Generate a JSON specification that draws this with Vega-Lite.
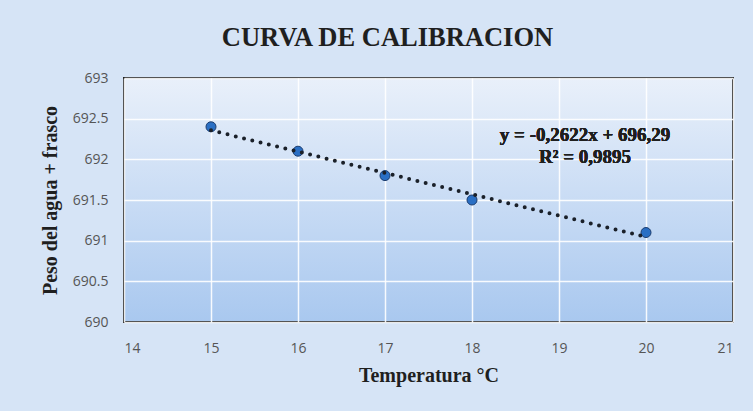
{
  "$schema": "https://vega.github.io/schema/vega-lite/v6.json",
  "width": 609,
  "height": 244,
  "autosize": {"type": "none"},
  "padding": {"left": 124, "top": 78, "right": 20, "bottom": 89},
  "background": "#d6e4f6",
  "title": {
    "text": "CURVA DE CALIBRACION",
    "font": "Liberation Serif",
    "fontSize": 26.5,
    "fontWeight": "bold",
    "color": "#1f1f1f",
    "anchor": "middle",
    "frame": "group",
    "dx": -41,
    "baseline": "bottom",
    "offset": -7
  },
  "config": {
    "view": {
      "stroke": "#222222",
      "strokeWidth": 2,
      "fill": {
        "gradient": "linear",
        "x1": 0, "y1": 0, "x2": 0, "y2": 1,
        "stops": [
          {"offset": 0, "color": "#e9f0fa"},
          {"offset": 1, "color": "#a9c8ef"}
        ]
      }
    },
    "axis": {
      "labelFont": "Open Sans",
      "labelFontSize": 14,
      "labelColor": "#555555",
      "ticks": false,
      "domain": false,
      "gridColor": "#ffffff",
      "gridWidth": 1.5,
      "gridOpacity": 0.9,
      "titleFont": "Liberation Serif",
      "titleFontSize": 20,
      "titleFontWeight": "bold",
      "titleColor": "#1f1f1f"
    }
  },
  "data": {
    "values": [
      {"temp": 15, "peso": 692.4},
      {"temp": 16, "peso": 692.1},
      {"temp": 17, "peso": 691.8},
      {"temp": 18, "peso": 691.5},
      {"temp": 20, "peso": 691.1}
    ]
  },
  "encoding": {
    "x": {
      "field": "temp",
      "type": "quantitative",
      "scale": {"domain": [14, 21], "nice": false, "zero": false},
      "axis": {
        "title": "Temperatura °C",
        "values": [14, 15, 16, 17, 18, 19, 20, 21],
        "labelPadding": 19,
        "titlePadding": 10
      }
    },
    "y": {
      "field": "peso",
      "type": "quantitative",
      "scale": {"domain": [690, 693], "nice": false, "zero": false},
      "axis": {
        "title": "Peso del agua + frasco",
        "format": "~g",
        "values": [690, 690.5, 691, 691.5, 692, 692.5, 693],
        "labelPadding": 16,
        "titlePadding": 12
      }
    }
  },
  "layer": [
    {
      "mark": {"type": "point", "filled": true, "size": 100, "color": "#2a6fc4", "stroke": "#1b3c6e", "strokeWidth": 1, "opacity": 1}
    },
    {
      "transform": [{"regression": "peso", "on": "temp"}],
      "mark": {"type": "line", "color": "#1a2029", "strokeWidth": 4, "strokeDash": [0, 8.5], "strokeCap": "round"}
    },
    {
      "mark": {
        "type": "text",
        "text": ["y = -0,2622x + 696,29", "R² = 0,9895"],
        "font": "Liberation Serif",
        "fontSize": 19,
        "fontWeight": "bold",
        "color": "#1f1f1f",
        "align": "center",
        "baseline": "alphabetic",
        "lineHeight": 22
      },
      "encoding": {
        "x": {"datum": 19.3, "type": "quantitative"},
        "y": {"datum": 692.22, "type": "quantitative"}
      }
    }
  ]
}
